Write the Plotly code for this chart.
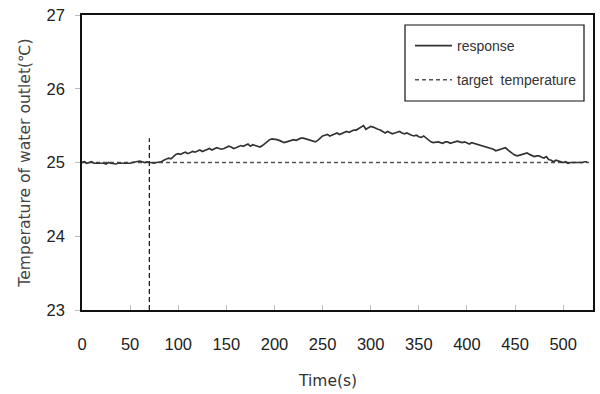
import plotly.graph_objects as go

# Outlet water temperature sampled every 2.5 s
response = [
    25.00, 25.01, 24.99, 25.00, 25.01, 24.99, 24.99, 25.00, 25.00, 24.99,
    24.98, 25.00, 24.99, 24.98, 24.98, 24.99, 24.99, 24.98, 24.98, 24.99,
    24.99, 25.00, 25.01, 25.02, 25.02, 25.01, 25.00, 25.01, 25.00, 24.99,
    24.99, 25.00, 25.00, 25.01, 25.03, 25.04, 25.06, 25.05, 25.08, 25.11,
    25.12, 25.11, 25.13, 25.14, 25.12, 25.14, 25.15, 25.14, 25.16, 25.17,
    25.15, 25.16, 25.18, 25.19, 25.17, 25.18, 25.20, 25.19, 25.18, 25.19,
    25.20, 25.22, 25.21, 25.19, 25.20, 25.22, 25.23, 25.22, 25.24, 25.25,
    25.22, 25.24, 25.23, 25.22, 25.21, 25.23, 25.26, 25.29, 25.31, 25.32,
    25.32, 25.31, 25.30, 25.28, 25.27, 25.28, 25.29, 25.30, 25.31, 25.30,
    25.32, 25.33, 25.33, 25.32, 25.31, 25.30, 25.29, 25.28, 25.30, 25.33,
    25.36, 25.37, 25.38, 25.36, 25.37, 25.38, 25.40, 25.38, 25.39, 25.41,
    25.42, 25.41, 25.43, 25.44, 25.44, 25.46, 25.47, 25.50, 25.45, 25.47,
    25.49, 25.48, 25.46, 25.45, 25.44, 25.42, 25.40, 25.42, 25.41, 25.39,
    25.40, 25.41, 25.42, 25.40, 25.39, 25.40, 25.38, 25.37, 25.36, 25.37,
    25.35, 25.34, 25.36, 25.33, 25.31, 25.28, 25.27, 25.28, 25.28, 25.27,
    25.26, 25.28, 25.28, 25.26, 25.27, 25.28, 25.29, 25.28, 25.27, 25.28,
    25.26, 25.25, 25.27, 25.26, 25.25, 25.24, 25.23, 25.22, 25.22, 25.21,
    25.20, 25.18, 25.16, 25.17, 25.17, 25.19, 25.20, 25.17, 25.14, 25.12,
    25.10, 25.09, 25.10, 25.11, 25.12, 25.13, 25.11, 25.10, 25.08, 25.09,
    25.09, 25.07, 25.06, 25.08, 25.04, 25.03, 25.01, 25.03, 25.02, 25.00,
    25.00, 25.01, 24.99, 25.00, 25.00, 24.99, 24.99, 25.00, 25.00, 25.01,
    25.01,
]
time_s = [i * 2.5 for i in range(len(response))]

target_time = [0, 527]
target_temp = [25.0, 25.0]

# Moment the disturbance is applied
event_time = [70, 70]
event_span = [23.0, 25.33]

x_ticks = [0, 50, 100, 150, 200, 250, 300, 350, 400, 450, 500]
y_ticks = [23, 24, 25, 26, 27]

TICK_FONT = "Liberation Sans, Arial, sans-serif"
TEXT_FONT = "DejaVu Sans, Verdana, sans-serif"

fig = go.Figure()
fig.add_trace(go.Scatter(
    x=event_time, y=event_span, mode="lines", showlegend=False,
    line=dict(color="#222222", width=1.3, dash="5px,3px"), hoverinfo="skip",
))
fig.add_trace(go.Scatter(
    x=target_time, y=target_temp, mode="lines", name="target  temperature",
    line=dict(color="#555555", width=1.6, dash="4px,3px"), legendrank=2,
    legendgroup="b",
))
fig.add_trace(go.Scatter(
    x=time_s, y=response, mode="lines", name="response",
    line=dict(color="#333333", width=1.7), legendrank=1, legendgroup="a",
))

# Frame around the legend
fig.add_shape(
    type="rect", xref="paper", yref="paper",
    x0=(405 - 82) / 511, x1=(584 - 82) / 511,
    y0=(310 - 101) / 295, y1=(310 - 25) / 295,
    line=dict(color="#111111", width=1.2), fillcolor="white", layer="above",
)

# x-axis title
fig.add_annotation(
    text="Time(s)", xref="paper", yref="paper",
    x=(327 - 82) / 511, y=(310 - 381) / 295,
    showarrow=False, xanchor="center", yanchor="middle",
    font=dict(family=TEXT_FONT, size=15.5, color="#333333"),
)

fig.update_layout(
    width=600, height=394,
    margin=dict(l=82, r=7, t=15, b=84, autoexpand=False),
    paper_bgcolor="white", plot_bgcolor="white",
    font=dict(family=TICK_FONT, color="#222222", size=16.5),
    legend=dict(
        x=(410 - 82) / 511, y=(310 - 30) / 295, xanchor="left", yanchor="top",
        borderwidth=0, bgcolor="rgba(0,0,0,0)",
        font=dict(family=TICK_FONT, size=14, color="#333333"),
        tracegroupgap=13, itemwidth=37,
    ),
    xaxis=dict(
        range=[0, 531], tickvals=x_ticks, showgrid=False, zeroline=False,
        showline=True, linecolor="#111111", linewidth=1.5, mirror=True,
        ticks="inside", ticklen=5, tickcolor="#bbbbbb", tickwidth=1,
        ticklabelstandoff=18,
    ),
    yaxis=dict(
        range=[23, 27], tickvals=y_ticks, showgrid=False, zeroline=False,
        showline=True, linecolor="#111111", linewidth=1.5, mirror=True,
        ticks="outside", ticklen=5, tickcolor="#bbbbbb", tickwidth=1,
        ticklabelstandoff=7,
        title=dict(text="Temperature of water outlet(℃)",
                   font=dict(family=TEXT_FONT, size=15.6, color="#444444"),
                   standoff=12),
    ),
)

fig.write_html("out.html")
